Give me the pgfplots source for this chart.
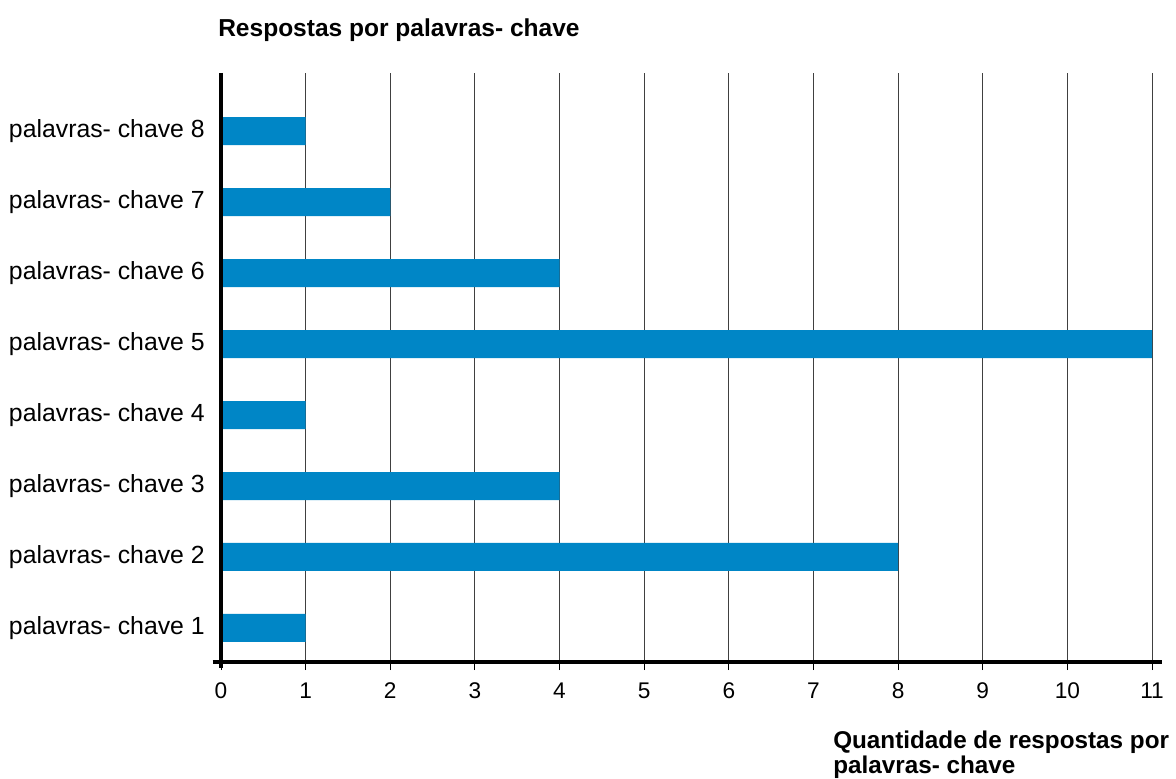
\documentclass[border=0pt]{standalone}
\usepackage{pgfplots}
\pgfplotsset{compat=1.18}
\usepackage{fontspec}
\setmainfont{Liberation Sans}
\definecolor{barblue}{RGB}{0,134,198}
\begin{document}
\begin{tikzpicture}
\path[use as bounding box] (0,0) rectangle (882pt,583.5pt);
\begin{axis}[
  at={(165.75pt,87pt)}, anchor=south west,
  scale only axis, width=698.25pt, height=441.75pt,
  xmin=0, xmax=11, ymin=0.52, ymax=8.82,
  xbar, bar width=21pt,
  xtick={0,...,11}, ytick={1,...,8},
  yticklabels={palavras- chave 1,palavras- chave 2,palavras- chave 3,palavras- chave 4,palavras- chave 5,palavras- chave 6,palavras- chave 7,palavras- chave 8},
  xmajorgrids, grid style={black!75, line width=0.75pt},
  axis line style={draw=none},
  tick align=outside, major tick length=6pt,
  xtick pos=lower,
  xtick style={black, line width=0.75pt},
  ytick style={draw=none},
  yticklabel style={font=\fontsize{18.6}{20}\selectfont, inner sep=0pt, xshift=-6pt, anchor=east},
  xticklabel style={font=\fontsize{17}{19}\selectfont, inner sep=0pt, anchor=north, yshift=-9.5pt},
  clip=false,
  /pgf/number format/assume math mode=true,
]
\addplot[fill=barblue, draw=none] coordinates {(1,1) (8,2) (4,3) (1,4) (11,5) (4,6) (2,7) (1,8)};
\draw[black, line width=2.5pt] (axis cs:-0.1,0.52) -- (axis cs:11.12,0.52);
\draw[black, line width=2.5pt] (axis cs:0,8.82) -- (axis cs:0,0.435);
\end{axis}
\node[anchor=west, inner sep=0pt, font=\fontsize{18.4}{20}\selectfont\bfseries] at (163.5pt,561pt) {Respostas por palavras- chave};
\node[anchor=west, inner sep=0pt, font=\fontsize{18.2}{20}\selectfont\bfseries] at (624.75pt,27pt) {Quantidade de respostas por};
\node[anchor=west, inner sep=0pt, font=\fontsize{18.2}{20}\selectfont\bfseries] at (624.75pt,8pt) {palavras- chave};
\end{tikzpicture}
\end{document}
